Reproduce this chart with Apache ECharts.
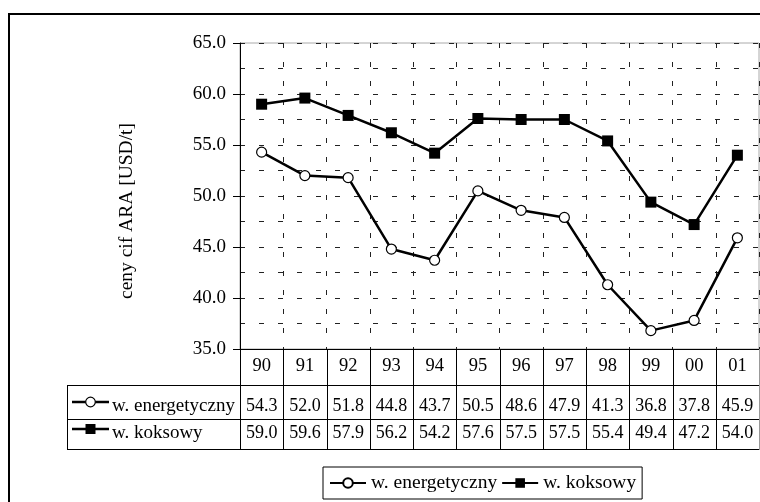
<!DOCTYPE html>
<html>
<head>
<meta charset="utf-8">
<script src="https://cdn.jsdelivr.net/npm/echarts@6/dist/echarts.min.js"></script>
<style>
  html, body { margin: 0; padding: 0; background: #fff; }
  #chart { width: 760px; height: 502px; }
</style>
</head>
<body>
<div id="chart"></div>
<script>
// lata (oś X)
const years = ['90', '91', '92', '93', '94', '95', '96', '97', '98', '99', '00', '01'];
// ceny cif ARA [USD/t]
const energetyczny = [54.3, 52.0, 51.8, 44.8, 43.7, 50.5, 48.6, 47.9, 41.3, 36.8, 37.8, 45.9];
const koksowy = [59.0, 59.6, 57.9, 56.2, 54.2, 57.6, 57.5, 57.5, 55.4, 49.4, 47.2, 54.0];
const seriesNames = ['w. energetyczny', 'w. koksowy'];
const yMin = 35, yMax = 65, yStep = 5, yMinorStep = 2.5;

const FONT = 'Liberation Serif';
const L = 240, R = 759, T = 43, B = 349;
const colW = (R - L) / years.length;
const tabLeft = 67;
const rowTops = [385, 419, 449];
const textY = [406, 433.5];
const iconY = [402, 429];

let myChart = echarts.init(document.getElementById('chart'));

function hline(y, x1, x2, color) {
    return { type: 'line', z: 10, shape: { x1: x1, y1: y + 0.5, x2: x2, y2: y + 0.5 }, style: { stroke: color || '#000', lineWidth: 1 } };
}
function vline(x, y1, y2, color) {
    return { type: 'line', z: 10, shape: { x1: Math.round(x) + 0.5, y1: y1, x2: Math.round(x) + 0.5, y2: y2 }, style: { stroke: color || '#000', lineWidth: 1 } };
}
function label(text, x, y, align, size) {
    return {
        type: 'text', z: 11,
        style: { text: text, x: x, y: y, fill: '#000', font: (size || 18) + 'px "' + FONT + '"', align: align || 'center', verticalAlign: 'middle' }
    };
}

function buildTable() {
    let g = [];
    // ramka całego rysunku
    g.push({ type: 'rect', z: 1, shape: { x: 9, y: 14, width: 800, height: 600 }, style: { fill: 'none', stroke: '#000', lineWidth: 2 } });
    // linie tabeli
    g.push(hline(rowTops[0], tabLeft, R));
    g.push(hline(rowTops[1], tabLeft, R));
    g.push(hline(rowTops[2], tabLeft, R));
    g.push(vline(tabLeft, rowTops[0], rowTops[2] + 1));
    for (let k = 0; k <= years.length; k++) {
        g.push(vline(L + k * colW, B, rowTops[2] + 1, k === years.length ? '#999' : '#000'));
    }
    // ikony i opisy wierszy
    [energetyczny, koksowy].forEach((vals, r) => {
        let y = iconY[r];
        g.push({ type: 'line', z: 11, shape: { x1: 72, y1: y, x2: 109, y2: y }, style: { stroke: '#000', lineWidth: 2.5 } });
        if (r === 0) {
            g.push({ type: 'circle', z: 12, shape: { cx: 90.5, cy: y, r: 4.8 }, style: { fill: '#fff', stroke: '#000', lineWidth: 1.2 } });
        } else {
            g.push({ type: 'rect', z: 12, shape: { x: 85.5, y: y - 5, width: 10, height: 10 }, style: { fill: '#000' } });
        }
        g.push(label(seriesNames[r], 112, textY[r], 'left', 19));
        vals.forEach((v, i) => {
            g.push(label(v.toFixed(1), L + (i + 0.5) * colW, textY[r]));
        });
    });
    // tytuł osi Y
    g.push({
        type: 'text', z: 11, x: 127, y: 211, rotation: Math.PI / 2,
        style: { text: 'ceny cif ARA [USD/t]', x: 0, y: 0, fill: '#000', font: '19.5px "' + FONT + '"', align: 'center', verticalAlign: 'middle' }
    });
    return g;
}

const gridDash = { color: '#222', width: 1, type: [5, 14] };

let option = {
    backgroundColor: '#fff',
    animation: false,
    textStyle: { fontFamily: FONT, color: '#000' },
    grid: { left: L, right: 760 - R, top: T, bottom: 502 - B, show: true, borderColor: '#aaa', borderWidth: 1 },
    legend: {
        data: seriesNames,
        left: 323, top: 467,
        padding: [6, 6, 6, 6],
        itemGap: 4,
        itemWidth: 36,
        itemHeight: 12,
        borderColor: '#000',
        borderWidth: 1,
        textStyle: { fontFamily: FONT, fontSize: 19.5, color: '#000' }
    },
    xAxis: {
        type: 'category',
        data: years,
        boundaryGap: true,
        axisLine: { lineStyle: { color: '#000', width: 1 } },
        axisTick: { show: false },
        axisLabel: { interval: 0, margin: 8, fontSize: 18.5, fontFamily: FONT, color: '#000' },
        splitLine: { show: true, interval: 0, lineStyle: gridDash }
    },
    yAxis: [{
        type: 'value',
        min: yMin, max: yMax, interval: yStep,
        axisLine: { show: true, lineStyle: { color: '#000', width: 1 } },
        axisTick: { show: true, length: 7, lineStyle: { color: '#000' } },
        axisLabel: { margin: 14, fontSize: 19, fontFamily: FONT, color: '#000', formatter: v => v.toFixed(1) },
        splitLine: { show: false }
    }, {
        type: 'value',
        position: 'left',
        min: yMin, max: yMax, interval: yMinorStep,
        axisLine: { show: false },
        axisTick: { show: false },
        axisLabel: { show: false },
        splitLine: { show: true, lineStyle: gridDash }
    }],
    series: [{
        name: seriesNames[0],
        type: 'line',
        data: energetyczny,
        symbol: 'circle',
        symbolSize: 10,
        showAllSymbol: true,
        lineStyle: { color: '#000', width: 2.5 },
        itemStyle: { color: '#fff', borderColor: '#000', borderWidth: 1.2 },
        z: 5
    }, {
        name: seriesNames[1],
        type: 'line',
        data: koksowy,
        symbol: 'rect',
        symbolSize: 11,
        showAllSymbol: true,
        lineStyle: { color: '#000', width: 2.5 },
        itemStyle: { color: '#000' },
        z: 5
    }],
    graphic: buildTable()
};

myChart.setOption(option);
</script>
</body>
</html>
